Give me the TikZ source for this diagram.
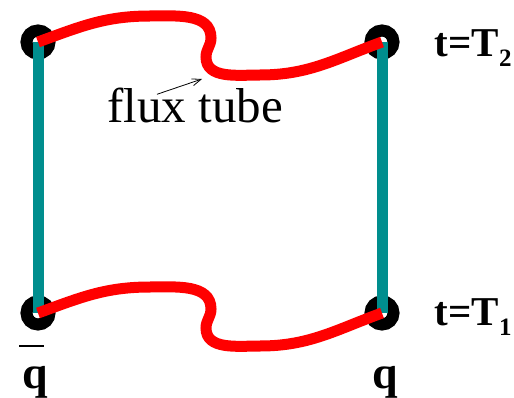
\documentclass[tikz,border=0pt]{standalone}
\usepackage{fontspec}
\setmainfont{Liberation Serif}
\usepackage{tikz}
\usetikzlibrary{positioning, arrows.meta}
\definecolor{tubeRed}{RGB}{255, 0, 0}
\definecolor{lineTeal}{RGB}{0, 142, 142}

\begin{document}
\begin{tikzpicture}[
    x=1pt, y=1pt,
    quark/.style={circle, draw=black, line width=12pt,
                  minimum size=23pt, inner sep=0pt},
    worldline/.style={lineTeal, line width=11pt},
    tube/.style={tubeRed, line width=11pt},
    pointer/.style={-{Straight Barb[length=9pt,width=7pt]}, line width=0.8pt},
    timelabel/.style={font=\fontsize{41}{41}\selectfont\bfseries, inner sep=0pt},
    quarklabel/.style={font=\fontsize{46}{46}\selectfont\bfseries, inner sep=0pt},
  ]
    \useasboundingbox (0,0) rectangle (514,397);

    % quark and antiquark at both times
    \node[quark] (TL) at (38,355) {};
    \node[quark] (TR) at (382,355) {};
    \node[quark] (BL) at (38,84) {};
    \node[quark] (BR) at (382,84) {};

    % world lines
    \draw[worldline] (TL.center) -- (BL.center);
    \draw[worldline] (TR.center) -- (BR.center);

    % flux tubes
    \foreach \a/\b in {TL/TR, BL/BR}
      \draw[tube] (\a.center) to[out=20,in=180] ++(112,26)
          to[out=0,in=90] ++(61,-22) to[out=-90,in=90] ++(-5,-19)
          to[out=-90,in=180] ++(54,-18) to[out=0,in=200] (\b.center);

    \node[font=\fontsize{49}{49}\selectfont, inner sep=0pt, anchor=base west]
         (flux) at (107,274) {flux tube};
    \coordinate (tubetip) at (202,318);
    \draw[pointer] ([xshift=-38pt,yshift=-6pt]flux.north) -- (tubetip);

    \node[timelabel, right=35pt of TR, anchor=base west, yshift=-15pt] (T2)
         {t=T\raisebox{-10pt}{\fontsize{25}{25}\selectfont 2}};
    \node[timelabel, right=35pt of BR, anchor=base west, yshift=-12pt] (T1)
         {t=T\raisebox{-10pt}{\fontsize{25}{25}\selectfont 1}};

    \node[quarklabel, below=75pt of BL.center, anchor=base, xshift=-3pt] (qbar)
         {\makebox[0pt][l]{\kern-3pt\raisebox{41pt}{\rule{25pt}{2pt}}}q};
    \node[quarklabel, below=75pt of BR.center, anchor=base, xshift=3pt] (q) {q};
  \end{tikzpicture}
\end{document}
